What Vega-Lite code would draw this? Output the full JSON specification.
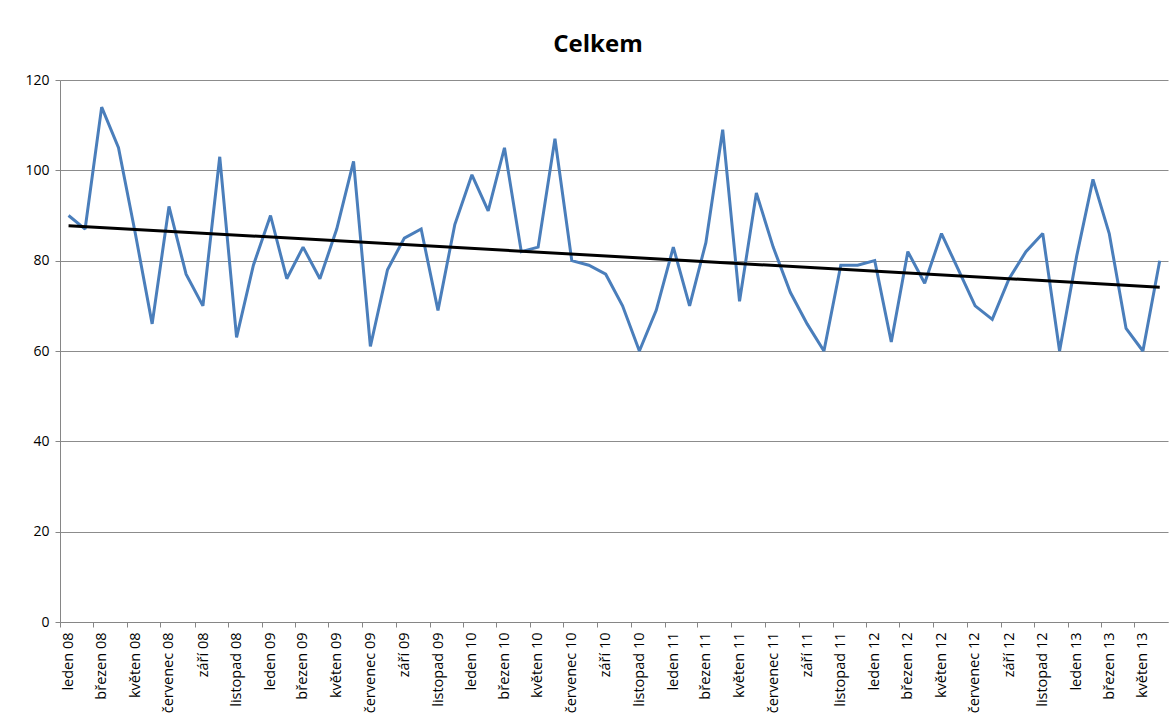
{
  "$schema": "https://vega.github.io/schema/vega-lite/v6.json",
  "width": 1108,
  "height": 542,
  "autosize": "none",
  "padding": {"left": 60, "top": 80, "right": 8, "bottom": 98},
  "background": "white",
  "title": {"text": "Celkem", "fontSize": 24, "fontWeight": "bold", "font": "Open Sans", "color": "#000000", "anchor": "middle", "offset": 16, "dx": -16},
  "config": {"view": {"stroke": null}},
  "data": {
    "format": {"parse": {"date": "utc:'%Y-%m-%d'"}},
    "values": [
      {"date": "2008-01-01", "v": 90}, {"date": "2008-02-01", "v": 87}, {"date": "2008-03-01", "v": 114}, {"date": "2008-04-01", "v": 105},
      {"date": "2008-05-01", "v": 86}, {"date": "2008-06-01", "v": 66}, {"date": "2008-07-01", "v": 92}, {"date": "2008-08-01", "v": 77},
      {"date": "2008-09-01", "v": 70}, {"date": "2008-10-01", "v": 103}, {"date": "2008-11-01", "v": 63}, {"date": "2008-12-01", "v": 79},
      {"date": "2009-01-01", "v": 90}, {"date": "2009-02-01", "v": 76}, {"date": "2009-03-01", "v": 83}, {"date": "2009-04-01", "v": 76},
      {"date": "2009-05-01", "v": 87}, {"date": "2009-06-01", "v": 102}, {"date": "2009-07-01", "v": 61}, {"date": "2009-08-01", "v": 78},
      {"date": "2009-09-01", "v": 85}, {"date": "2009-10-01", "v": 87}, {"date": "2009-11-01", "v": 69}, {"date": "2009-12-01", "v": 88},
      {"date": "2010-01-01", "v": 99}, {"date": "2010-02-01", "v": 91}, {"date": "2010-03-01", "v": 105}, {"date": "2010-04-01", "v": 82},
      {"date": "2010-05-01", "v": 83}, {"date": "2010-06-01", "v": 107}, {"date": "2010-07-01", "v": 80}, {"date": "2010-08-01", "v": 79},
      {"date": "2010-09-01", "v": 77}, {"date": "2010-10-01", "v": 70}, {"date": "2010-11-01", "v": 60}, {"date": "2010-12-01", "v": 69},
      {"date": "2011-01-01", "v": 83}, {"date": "2011-02-01", "v": 70}, {"date": "2011-03-01", "v": 84}, {"date": "2011-04-01", "v": 109},
      {"date": "2011-05-01", "v": 71}, {"date": "2011-06-01", "v": 95}, {"date": "2011-07-01", "v": 83}, {"date": "2011-08-01", "v": 73},
      {"date": "2011-09-01", "v": 66}, {"date": "2011-10-01", "v": 60}, {"date": "2011-11-01", "v": 79}, {"date": "2011-12-01", "v": 79},
      {"date": "2012-01-01", "v": 80}, {"date": "2012-02-01", "v": 62}, {"date": "2012-03-01", "v": 82}, {"date": "2012-04-01", "v": 75},
      {"date": "2012-05-01", "v": 86}, {"date": "2012-06-01", "v": 78}, {"date": "2012-07-01", "v": 70}, {"date": "2012-08-01", "v": 67},
      {"date": "2012-09-01", "v": 76}, {"date": "2012-10-01", "v": 82}, {"date": "2012-11-01", "v": 86}, {"date": "2012-12-01", "v": 60},
      {"date": "2013-01-01", "v": 81}, {"date": "2013-02-01", "v": 98}, {"date": "2013-03-01", "v": 86}, {"date": "2013-04-01", "v": 65},
      {"date": "2013-05-01", "v": 60}, {"date": "2013-06-01", "v": 80}
    ]
  },
  "encoding": {
    "x": {
      "field": "date", "timeUnit": "utcyearmonth", "type": "temporal", "bandPosition": 0.5, "title": null,
      "scale": {"type": "utc", "domain": [{"year": 2008, "month": 1, "date": 1, "utc": true}, {"year": 2013, "month": 7, "date": 1, "utc": true}], "nice": false},
      "axis": {
        "values": [
          {"year": 2008, "month": 1, "date": 1, "utc": true}, {"year": 2008, "month": 3, "date": 1, "utc": true}, {"year": 2008, "month": 5, "date": 1, "utc": true}, {"year": 2008, "month": 7, "date": 1, "utc": true}, {"year": 2008, "month": 9, "date": 1, "utc": true}, {"year": 2008, "month": 11, "date": 1, "utc": true},
          {"year": 2009, "month": 1, "date": 1, "utc": true}, {"year": 2009, "month": 3, "date": 1, "utc": true}, {"year": 2009, "month": 5, "date": 1, "utc": true}, {"year": 2009, "month": 7, "date": 1, "utc": true}, {"year": 2009, "month": 9, "date": 1, "utc": true}, {"year": 2009, "month": 11, "date": 1, "utc": true},
          {"year": 2010, "month": 1, "date": 1, "utc": true}, {"year": 2010, "month": 3, "date": 1, "utc": true}, {"year": 2010, "month": 5, "date": 1, "utc": true}, {"year": 2010, "month": 7, "date": 1, "utc": true}, {"year": 2010, "month": 9, "date": 1, "utc": true}, {"year": 2010, "month": 11, "date": 1, "utc": true},
          {"year": 2011, "month": 1, "date": 1, "utc": true}, {"year": 2011, "month": 3, "date": 1, "utc": true}, {"year": 2011, "month": 5, "date": 1, "utc": true}, {"year": 2011, "month": 7, "date": 1, "utc": true}, {"year": 2011, "month": 9, "date": 1, "utc": true}, {"year": 2011, "month": 11, "date": 1, "utc": true},
          {"year": 2012, "month": 1, "date": 1, "utc": true}, {"year": 2012, "month": 3, "date": 1, "utc": true}, {"year": 2012, "month": 5, "date": 1, "utc": true}, {"year": 2012, "month": 7, "date": 1, "utc": true}, {"year": 2012, "month": 9, "date": 1, "utc": true}, {"year": 2012, "month": 11, "date": 1, "utc": true},
          {"year": 2013, "month": 1, "date": 1, "utc": true}, {"year": 2013, "month": 3, "date": 1, "utc": true}, {"year": 2013, "month": 5, "date": 1, "utc": true}
        ],
        "labelExpr": "['leden','únor','březen','duben','květen','červen','červenec','srpen','září','říjen','listopad','prosinec'][utcmonth(datum.value)] + ' ' + utcFormat(datum.value, '%y')",
        "labelAngle": -90, "labelAlign": "right", "labelBaseline": "middle", "labelOffset": 8.4, "labelPadding": 5,
        "labelFont": "Open Sans", "labelFontSize": 14.5, "labelColor": "#000000", "labelOverlap": false, "labelBound": false, "labelFlush": false,
        "grid": false, "domainColor": "#868686", "domainWidth": 1, "tickColor": "#868686", "tickSize": 5
      }
    }
  },
  "layer": [
    {
      "mark": {"type": "line", "color": "#4a7ebb", "strokeWidth": 3, "strokeJoin": "miter", "strokeMiterLimit": 2},
      "encoding": {
        "y": {
          "field": "v", "type": "quantitative", "title": null,
          "scale": {"domain": [0, 120], "nice": false, "zero": true},
          "axis": {"values": [0, 20, 40, 60, 80, 100, 120], "grid": true, "gridColor": "#8c8c8c", "gridWidth": 1,
                   "domainColor": "#868686", "tickColor": "#868686", "tickSize": 5,
                   "labelFont": "Open Sans", "labelFontSize": 14, "labelColor": "#000000", "labelPadding": 6}
        }
      }
    },
    {
      "transform": [{"regression": "v", "on": "date"}],
      "mark": {"type": "line", "color": "#000000", "strokeWidth": 3},
      "encoding": {
        "y": {"field": "v", "type": "quantitative"}
      }
    }
  ]
}
